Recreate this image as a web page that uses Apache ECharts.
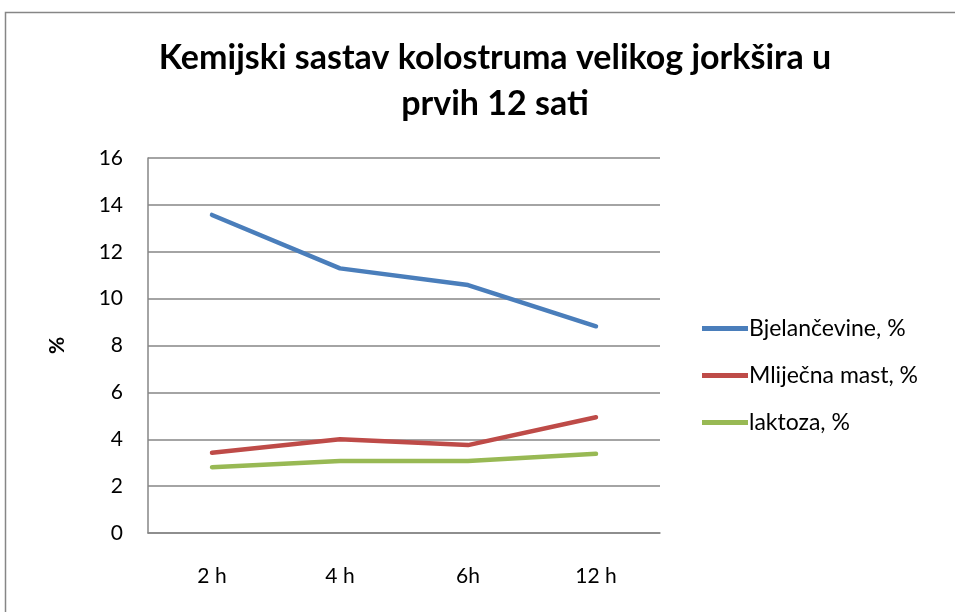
<!DOCTYPE html>
<html>
<head>
<meta charset="utf-8">
<script src="https://cdn.jsdelivr.net/npm/echarts@6/dist/echarts.min.js"></script>
<style>
  html, body { margin: 0; padding: 0; background: #fff; }
  #main { width: 955px; height: 612px; }
</style>
</head>
<body>
<div id="main"></div>
<script>
// podaci
var categories = ['2 h', '4 h', '6h', '12 h'];
var bjelancevine = [13.57, 11.29, 10.58, 8.82];
var mlijecnaMast = [3.42, 4.0, 3.75, 4.94];
var laktoza = [2.81, 3.07, 3.07, 3.38];
var seriesNames = ['Bjelančevine, %', 'Mliječna mast, %', 'laktoza, %'];
var seriesColors = ['#4a7ebb', '#be4b48', '#98b954'];

var chart = echarts.init(document.getElementById('main'));
var font = 'Lato, "Open Sans", sans-serif';

var option = {
  backgroundColor: '#fff',
  animation: false,
  graphic: [{
    type: 'rect',
    shape: { x: 5.5, y: 12.5, width: 1000, height: 700 },
    style: { fill: 'none', stroke: '#868686', lineWidth: 1.5 }
  }],
  title: {
    text: 'Kemijski sastav kolostruma velikog jorkšira u\nprvih 12 sati',
    left: 490,
    top: 30,
    textAlign: 'center',
    textStyle: { fontFamily: font, fontSize: 34, fontWeight: 'bold', color: '#000', lineHeight: 46 }
  },
  legend: {
    orient: 'vertical',
    left: 697,
    top: 312,
    itemWidth: 46,
    itemHeight: 5,
    itemGap: 24,
    icon: 'rect',
    textStyle: { fontFamily: font, fontSize: 23, color: '#000', padding: [0, 0, 0, -4] },
    data: seriesNames
  },
  grid: { left: 148, right: 295, top: 158, bottom: 79 },
  xAxis: {
    type: 'category',
    data: categories,
    axisLine: { lineStyle: { color: '#868686', width: 1.5 } },
    axisTick: { show: false },
    axisLabel: { fontFamily: font, fontSize: 21, color: '#000', margin: 33 }
  },
  yAxis: {
    type: 'value',
    min: 0,
    max: 16,
    interval: 2,
    name: '%',
    nameLocation: 'middle',
    nameGap: 80,
    nameTextStyle: { fontFamily: font, fontSize: 21, fontWeight: 'bold', color: '#000' },
    axisLine: { show: true, lineStyle: { color: '#868686', width: 1.5 } },
    axisTick: { show: false },
    axisLabel: { fontFamily: font, fontSize: 21, color: '#000', margin: 25 },
    splitLine: { lineStyle: { color: '#868686', width: 1.5 } }
  },
  series: [
    { name: seriesNames[0], type: 'line', data: bjelancevine, color: seriesColors[0] },
    { name: seriesNames[1], type: 'line', data: mlijecnaMast, color: seriesColors[1] },
    { name: seriesNames[2], type: 'line', data: laktoza, color: seriesColors[2] }
  ].map(function (s) {
    s.symbol = 'none';
    s.lineStyle = { width: 4.5, cap: 'round', join: 'round' };
    return s;
  })
};

chart.setOption(option);
</script>
</body>
</html>
